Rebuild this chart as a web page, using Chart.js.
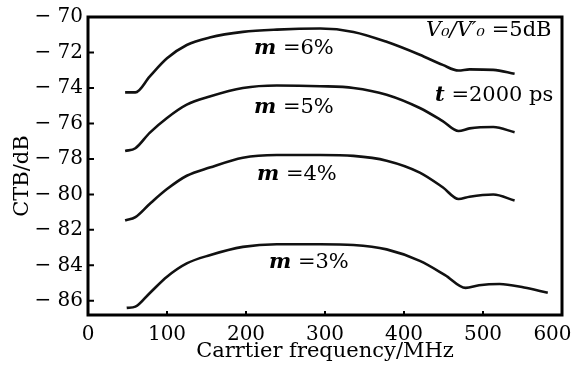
<!DOCTYPE html>
<html>
<head>
<meta charset="utf-8">
<script src="https://cdn.jsdelivr.net/npm/chart.js@4"></script>
<style>
  html, body { margin: 0; padding: 0; background: #fff; }
  #wrap { width: 572px; height: 378px; }
</style>
</head>
<body>
<div id="wrap"><canvas id="ctbChart"></canvas></div>
<script>
// frequency points (MHz)
const freq = [47, 60, 78, 100, 125, 154, 196, 239, 294, 336, 378, 420, 449, 469, 483, 513, 540];
const freq3 = [49, 60, 78, 100, 125, 154, 196, 239, 294, 336, 378, 420, 452, 478, 495, 521, 552, 582];

// CTB (dB) per modulation index
const ctbM6 = [-74.25, -74.25, -73.36, -72.33, -71.58, -71.16, -70.84, -70.71, -70.65, -70.84, -71.4, -72.13, -72.7, -73.02, -72.95, -72.98, -73.2];
const ctbM5 = [-77.55, -77.4, -76.53, -75.69, -74.94, -74.48, -74.0, -73.86, -73.9, -74.0, -74.38, -75.13, -75.87, -76.43, -76.28, -76.2, -76.5];
const ctbM4 = [-81.47, -81.28, -80.54, -79.7, -78.95, -78.49, -77.93, -77.78, -77.78, -77.83, -78.1, -78.77, -79.6, -80.26, -80.13, -80.01, -80.35];
const ctbM3 = [-86.4, -86.33, -85.57, -84.64, -83.89, -83.43, -82.96, -82.81, -82.81, -82.85, -83.1, -83.75, -84.55, -85.27, -85.12, -85.05, -85.25, -85.55];

const xTicks = [0, 100, 200, 300, 400, 500, 600];
const yTicks = [-86, -84, -82, -80, -78, -76, -74, -72, -70];

const serif = '"DejaVu Serif", "Liberation Serif", serif';

function pts(xs, ys) {
    return xs.map((x, i) => ({ x: x, y: ys[i] }));
}

function lineSet(label, xs, ys) {
    return {
        label: label,
        data: pts(xs, ys),
        borderColor: '#111',
        borderWidth: 2.6,
        pointRadius: 0,
        fill: false,
        cubicInterpolationMode: 'monotone'
    };
}

// frame, inward ticks and text labels
const decor = {
    id: 'decor',
    afterDraw(chart) {
        const ctx = chart.ctx;
        const a = chart.chartArea;
        const xs = chart.scales.x, ys = chart.scales.y;
        ctx.save();
        ctx.strokeStyle = '#000';
        ctx.lineWidth = 3;
        ctx.strokeRect(a.left, a.top, a.right - a.left, a.bottom - a.top);

        ctx.lineWidth = 2;
        ctx.beginPath();
        yTicks.forEach(v => {
            const y = ys.getPixelForValue(v);
            ctx.moveTo(a.left, y);
            ctx.lineTo(a.left + 6, y);
        });
        xTicks.forEach(v => {
            const x = xs.getPixelForValue(v);
            ctx.moveTo(x, a.bottom);
            ctx.lineTo(x, a.bottom - 4);
        });
        ctx.stroke();

        ctx.fillStyle = '#000';
        ctx.textBaseline = 'middle';
        ctx.textAlign = 'left';
        // draw pieces left to right: [text, font style]
        function parts(list, x, y) {
            list.forEach(p => {
                ctx.font = p[1] + '21px ' + serif;
                ctx.fillText(p[0], x, y);
                x += ctx.measureText(p[0]).width;
            });
        }
        parts([['m', 'italic bold '], [' =6%', '']], 254, 49);
        parts([['m', 'italic bold '], [' =5%', '']], 254, 108);
        parts([['m', 'italic bold '], [' =4%', '']], 257, 175);
        parts([['m', 'italic bold '], [' =3%', '']], 269, 263);
        parts([['V\u2080/V\u2032\u2080', 'italic '], [' =5dB', '']], 426, 31);
        parts([['t', 'italic bold '], [' =2000 ps', '']], 435, 96);
        ctx.restore();
    }
};

new Chart(document.getElementById('ctbChart'), {
    type: 'line',
    data: {
        datasets: [
            lineSet('m=6%', freq, ctbM6),
            lineSet('m=5%', freq, ctbM5),
            lineSet('m=4%', freq, ctbM4),
            lineSet('m=3%', freq3, ctbM3)
        ]
    },
    options: {
        responsive: true,
        maintainAspectRatio: false,
        animation: false,
        layout: { padding: { top: 15, right: 10, left: 0, bottom: 0 } },
        plugins: { legend: { display: false }, tooltip: { enabled: false } },
        scales: {
            x: {
                type: 'linear',
                min: 0,
                max: 600,
                afterBuildTicks: s => { s.ticks = xTicks.map(v => ({ value: v })); },
                afterFit: s => { s.height = 63; s.paddingLeft = 0; s.paddingRight = 0; },
                grid: { display: false, drawTicks: false },
                border: { display: false },
                ticks: {
                    color: '#000',
                    padding: 8,
                    font: { family: serif, size: 20 },
                    callback: v => v === 600 ? '600   ' : String(v)
                },
                title: {
                    display: true,
                    text: 'Carrtier frequency/MHz',
                    color: '#000',
                    font: { family: serif, size: 21 },
                    padding: { top: 0, bottom: 14 }
                }
            },
            y: {
                min: -86.8,
                max: -70,
                afterBuildTicks: s => { s.ticks = yTicks.map(v => ({ value: v })); },
                afterFit: s => { s.width = 88; },
                grid: { display: false, drawTicks: false },
                border: { display: false },
                ticks: {
                    color: '#000',
                    padding: 5,
                    font: { family: serif, size: 20 },
                    callback: v => '\u2212 ' + Math.abs(v)
                },
                title: {
                    display: true,
                    text: 'CTB/dB   ',
                    color: '#000',
                    font: { family: serif, size: 21 },
                    padding: { top: 10, bottom: 0 }
                }
            }
        }
    },
    plugins: [decor]
});
</script>
</body>
</html>
